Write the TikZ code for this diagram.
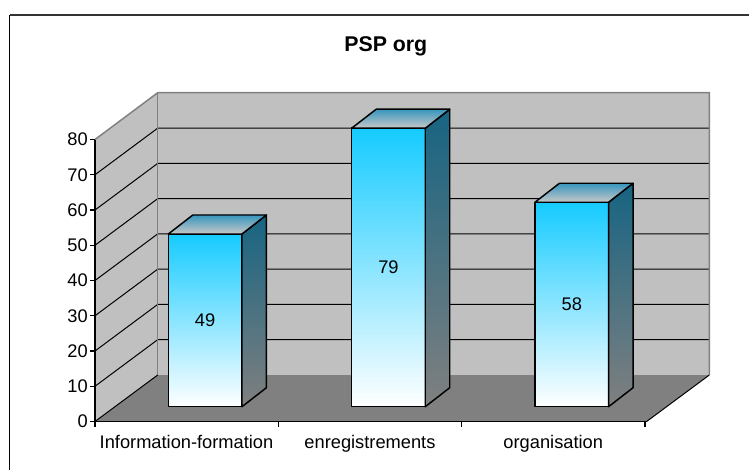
\documentclass[tikz,border=0pt]{standalone}
\usepackage{fontspec}
\setmainfont{Liberation Sans}
\usetikzlibrary{calc}
\definecolor{wallgray}{RGB}{192,192,192}
\definecolor{floorgray}{RGB}{128,128,128}
\definecolor{edgegray}{RGB}{128,128,128}
\definecolor{framegray}{RGB}{51,51,51}
\definecolor{barcyan}{RGB}{22,203,255}
\definecolor{sidetop}{RGB}{22,100,130}
\definecolor{sidebot}{RGB}{128,128,128}
\definecolor{toptop}{RGB}{55,150,190}
\definecolor{topbot}{RGB}{200,200,200}
\tikzset{
  gridline/.style={black, line width=0.75pt},
  axisline/.style={black, line width=1.1pt},
  baredge/.style={draw=black, line width=1.1pt, line join=round},
  ticklabel/.style={font=\fontsize{13.7}{16}\selectfont, inner sep=0pt},
  catlabel/.style={font=\fontsize{13.7}{16}\selectfont, inner sep=0pt, anchor=base},
  vallabel/.style={font=\fontsize{13.7}{16}\selectfont, inner sep=0pt},
  titlelabel/.style={font=\fontsize{16}{19}\selectfont\bfseries, inner sep=0pt, anchor=base}
}
\newcommand\drawmybar[3]{%
  \pgfmathsetmacro\bl{#1+18.5-36.8}%
  \pgfmathsetmacro\br{#1+18.5+36.8}%
  \pgfmathsetmacro\bt{406.7-3.525*#2}%
  \pgfmathsetmacro\bm{(\bt+406.7)/2}%
  \pgfmathsetmacro\bc{#1+18.5}%
  \shade[top color=barcyan, bottom color=white, baredge] (\bl,\bt) rectangle (\br,406.7);
  \shade[top color=sidetop, bottom color=sidebot, baredge] (\br,\bt) -- ++(24.5,-19) -- ($(\br,406.7)+(24.5,-19)$) -- (\br,406.7) -- cycle;
  \shade[top color=toptop, bottom color=topbot, baredge] (\bl,\bt) -- ++(24.5,-19) -- ($(\br,\bt)+(24.5,-19)$) -- (\br,\bt) -- cycle;
  \node[vallabel] (val#3) at (\bc,\bm) {#2};
}
\begin{document}
\begin{tikzpicture}[x=0.75pt,y=-0.75pt]
\useasboundingbox (0,0) rectangle (749,469);
\fill[white] (0,0) rectangle (749,469);
% frame
\draw[framegray, line width=1.6pt] (9.5,14.7) -- (760,14.7);
\draw[black, line width=1.2pt] (9.5,14.7) -- (9.5,480);
% title
\node[titlelabel] (title) at (385.8,51.7) {PSP org};
% back wall
\fill[wallgray] (157.7,92.7) rectangle (709.3,375);
% left wall
\fill[wallgray] (95,139.5) -- (157.7,92.7) -- (157.7,375) -- (95,421.5) -- cycle;
% floor
\fill[floorgray] (95,421.5) -- (157.7,375) -- (709.3,375) -- (646.6,421.5) -- cycle;
% gridlines
\foreach \v in {10,20,...,70}{
  \pgfmathsetmacro\yy{421.5-3.525*\v}
  \draw[gridline] (95,\yy) -- ++(62.7,-46.6) -- ++(551.6,0);
}
% wall edges
\draw[edgegray, line width=1.1pt] (95,139.5) -- (157.7,92.7) -- (709.3,92.7) -- (709.3,375);
\draw[edgegray, line width=1.1pt] (157.7,92.7) -- (157.7,375);
\draw[black, line width=0.75pt] (709.3,375) -- (646.6,421.5);
\draw[black, line width=0.75pt] (95,421.5) -- (157.7,375);
% axes
\draw[axisline] (95,139.5) -- (95,421.5) -- (646.6,421.5);
\foreach \v in {0,10,...,80}{
  \pgfmathsetmacro\yy{421.5-3.525*\v}
  \draw[axisline] (90,\yy) -- (95,\yy);
  \node[ticklabel, anchor=east] (t\v) at (88,\yy) {\v};
}
\foreach \xx in {95,278.3,461.7,645}{
  \draw[axisline] (\xx,421.5) -- (\xx,426.5);
}
% bars
\drawmybar{186.65}{49}{a}
\drawmybar{369.95}{79}{b}
\drawmybar{553.25}{58}{c}
% category labels
\node[catlabel] (c1) at (186.5,448.3) {Information-formation};
\node[catlabel] (c2) at (369.95,448.3) {enregistrements};
\node[catlabel] (c3) at (553.25,448.3) {organisation};
\end{tikzpicture}
\end{document}
